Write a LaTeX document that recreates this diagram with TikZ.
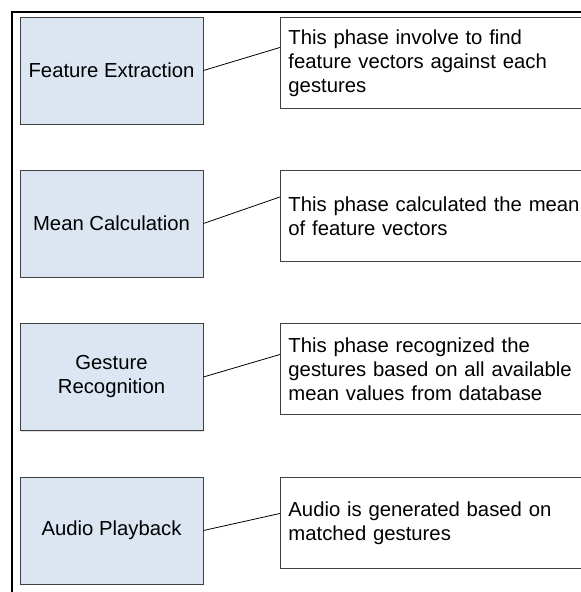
\documentclass[tikz,border=0pt]{standalone}
\usepackage{fontspec}
\setmainfont{Liberation Sans}
\usetikzlibrary{positioning}
\usetikzlibrary{shadows}

\definecolor{phasefill}{RGB}{220,230,242}
\definecolor{edgegray}{RGB}{64,64,64}

\tikzset{
  phase/.style={draw=edgegray, line width=0.9pt, fill=phasefill, minimum width=183pt, minimum height=107pt,
    align=center, inner sep=4pt, drop shadow={shadow xshift=1.2pt, shadow yshift=-1.2pt, opacity=0.25}},
  descbox/.style={draw=edgegray, line width=0.9pt, fill=white, anchor=north west, minimum height=91pt,
    text width=314pt, inner xsep=8pt, inner ysep=4pt, align=left},
  link/.style={draw=black, line width=0.8pt}
}

\begin{document}
\begin{tikzpicture}[x=1pt, y=-1pt, font=\fontsize{20.3}{24}\selectfont]
\useasboundingbox (0,0) rectangle (581,592);
\clip (0,0) rectangle (581,592);
\fill[white] (0,0) rectangle (581,592);

% outer frame
\draw[line width=2pt] (12,600) -- (12,12) -- (600,12);

% phases
\node[phase] (extract) at (111.5, 70.5) {Feature Extraction};
\node[phase] (mean) at (111.5, 223.5) {Mean Calculation};
\node[phase] (recog) at (111.5, 377) {Gesture\\Recognition};
\node[phase] (audio) at (111.5, 530.5) {Audio Playback};

% descriptions
\node[descbox] (extract-d) at (280, 17) {This phase involve to find\\feature vectors against each\\gestures};
\node[descbox] (mean-d) at (280, 170) {This phase calculated the mean\\of feature vectors};
\node[descbox] (recog-d) at (280, 323) {This phase recognized the\\gestures based on all available\\mean values from database};
\node[descbox] (audio-d) at (280, 477) {Audio is generated based on\\matched gestures};

% callout lines
\draw[link] (extract.east) -- ([yshift=15.5pt]extract-d.west);
\draw[link] (mean.east) -- ([yshift=19pt]mean-d.west);
\draw[link] (recog.east) -- ([yshift=14.5pt]recog-d.west);
\draw[link] (audio.east) -- ([yshift=9.5pt]audio-d.west);

\end{tikzpicture}
\end{document}
